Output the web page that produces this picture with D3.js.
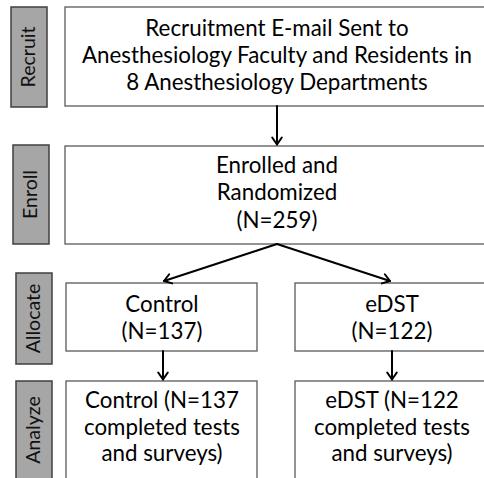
<!DOCTYPE html>
<html><head><meta charset="utf-8">
<script src="https://cdn.jsdelivr.net/npm/d3@7"></script>
<style>html,body{margin:0;padding:0;background:#fff;}svg{display:block;}</style>
</head><body>
<svg id="c" width="484" height="478"></svg>
<script>
// ---- data ----
const stages = ["Recruit", "Enroll", "Allocate", "Analyze"];
const recruitLines = ["Recruitment E-mail Sent to", "Anesthesiology Faculty and Residents in", "8 Anesthesiology Departments"];
const enrollLines = ["Enrolled and", "Randomized", "(N=259)"];
const arms = ["Control", "eDST"];
const armN = [137, 122];
const allocateLines = arms.map((a, i) => [a, "(N=" + armN[i] + ")"]);
const analyzeLines = arms.map((a, i) => [a + " (N=" + armN[i], "completed tests", "and surveys)"]);

// ---- layout ----
const svg = d3.select("#c");
const FONT = "Lato, 'Open Sans', sans-serif";
const ink = "#000";
const border = "#595959";

// stage label boxes [x, y, w, h]
const labelBoxes = [[11, 7, 36, 100], [13, 145, 36, 99], [16, 273, 36, 91], [16, 381, 36, 110]];
// main boxes
const mainBoxes = {
  recruit: [65, 7, 424, 99],
  enroll: [65, 146, 424, 98],
  alloc: [[66, 283, 191, 68], [295, 283, 194, 68]],
  analyze: [[66, 381, 191, 110], [295, 381, 194, 110]]
};

function fit(str, target) {
  const probe = svg.append("text").attr("font-family", FONT).attr("font-size", 100).text(str);
  const w = probe.node().getComputedTextLength();
  probe.remove();
  return 100 * target / w;
}
const fs = fit(recruitLines[1], 390);
const lfs = fit(stages[0], 61);

const gBoxes = svg.append("g");
function box(b) {
  gBoxes.append("rect").attr("x", b[0]).attr("y", b[1]).attr("width", b[2]).attr("height", b[3])
    .attr("fill", "#fff").attr("stroke", border).attr("stroke-width", 1.3);
}
function lines(cx, baselines, arr) {
  const t = svg.append("text").attr("font-family", FONT).attr("font-size", fs)
    .attr("fill", ink).attr("text-anchor", "middle");
  arr.forEach((s, i) => t.append("tspan").attr("x", cx).attr("y", baselines[i]).text(s));
}

box(mainBoxes.recruit);
box(mainBoxes.enroll);
mainBoxes.alloc.forEach(box);
mainBoxes.analyze.forEach(box);

lines(277, [36, 63, 90], recruitLines);
lines(277, [173, 200, 228], enrollLines);
const armCx = [162, 392];
allocateLines.forEach((l, i) => lines(armCx[i], [312, 339], l));
analyzeLines.forEach((l, i) => lines(armCx[i], [408, 435, 461], l));

// stage labels
const lg = svg.append("g");
labelBoxes.forEach((b, i) => {
  lg.append("rect").attr("x", b[0]).attr("y", b[1]).attr("width", b[2]).attr("height", b[3])
    .attr("fill", "#a6a6a6").attr("stroke", "#3f3f3f").attr("stroke-width", 1.5);
  const cx = b[0] + b[2] / 2 + 6;
  const cy = i === 3 ? 430 : b[1] + b[3] / 2;
  lg.append("text").attr("transform", `translate(${cx},${cy}) rotate(-90)`)
    .attr("text-anchor", "middle").attr("font-family", FONT).attr("font-size", lfs)
    .attr("fill", "#111").text(stages[i]);
});

// arrows
const ag = svg.append("g").attr("stroke", ink).attr("stroke-width", 2).attr("fill", "none")
  .attr("stroke-linecap", "round").attr("stroke-linejoin", "round");
function arrow(x1, y1, x2, y2) {
  ag.append("line").attr("x1", x1).attr("y1", y1).attr("x2", x2).attr("y2", y2);
  const a = Math.atan2(y2 - y1, x2 - x1), L = 8.5, sp = 0.6;
  const p = [[x2 - L * Math.cos(a - sp), y2 - L * Math.sin(a - sp)], [x2, y2], [x2 - L * Math.cos(a + sp), y2 - L * Math.sin(a + sp)]];
  ag.append("path").attr("d", d3.line()(p));
}
arrow(277, 106, 277, 144.5);
arrow(277, 244, 164, 281);
arrow(277, 244, 390, 281);
arrow(163, 351, 163, 379.5);
arrow(392, 351, 392, 379.5);
</script>
</body></html>
